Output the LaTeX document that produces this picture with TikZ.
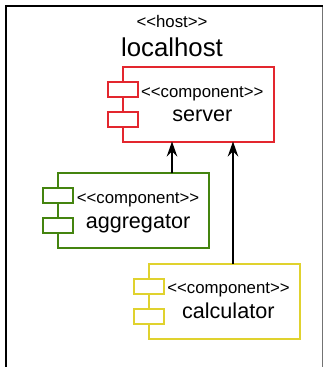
\documentclass[tikz,border=0pt]{standalone}
\usepackage{fontspec}
\setmainfont{Liberation Sans}
\usetikzlibrary{arrows.meta}
\definecolor{cred}{HTML}{E3262E}
\definecolor{cgreen}{HTML}{44840F}
\definecolor{cyellow}{HTML}{E0D22E}
\tikzset{
  comp/.style={draw=#1,line width=1.5pt,fill=white,minimum width=151pt,minimum height=75pt,inner sep=0pt,outer sep=0pt},
  port/.style={draw=#1,line width=1.5pt,fill=white,minimum width=30pt,minimum height=15pt,inner sep=0pt,outer sep=0pt},
  stereo/.style={font=\fontsize{16.8}{16.8}\selectfont,inner sep=0pt,anchor=base},
  cname/.style={font=\fontsize{21.6}{21.6}\selectfont,inner sep=0pt,anchor=base},
  dep/.style={line width=2pt,-{Stealth[length=15pt,width=10.5pt,inset=5pt]}}
}
\begin{document}
\begin{tikzpicture}[x=1pt,y=-1pt]
\useasboundingbox (0,0) rectangle (323,367);
\fill[white] (0,0) rectangle (323,367);
\draw[line width=2.2pt] (6,367) -- (6,6) -- (323,6);
\draw[line width=1pt,black!55] (322.5,7) -- (322.5,367);
\node[stereo] (hs) at (172,27.5) {<{}<host>{}>};
\node[font=\fontsize{25.8}{25.8}\selectfont,inner sep=0pt,anchor=base] (ln) at (172,56.7) {localhost};
\node[comp=cred] (server) at (198.5,104.5) {};
\node[port=cred] (sp1) at (123,89.5) {};
\node[port=cred] (sp2) at (123,119.5) {};
\node[stereo] (s1) at (202.3,97) {<{}<component>{}>};
\node[cname] (s2) at (202.3,121.7) {server};
\node[comp=cgreen] (agg) at (133.5,210.5) {};
\node[port=cgreen] (ap1) at (58,195.5) {};
\node[port=cgreen] (ap2) at (58,225.5) {};
\node[stereo] (a1) at (138,203) {<{}<component>{}>};
\node[cname] (a2) at (138,228) {aggregator};
\node[comp=cyellow] (calc) at (224.5,301.5) {};
\node[port=cyellow] (cp1) at (149,286.5) {};
\node[port=cyellow] (cp2) at (149,316.5) {};
\node[stereo] (c1) at (228.5,293.5) {<{}<component>{}>};
\node[cname] (c2) at (228.3,318.5) {calculator};
\coordinate (a) at (172,173);
\coordinate (b) at (172,141.5);
\coordinate (c) at (233,264);
\coordinate (d) at (233,141.5);
\draw[dep] (a) -- (b);
\draw[dep] (c) -- (d);
\end{tikzpicture}
\end{document}
